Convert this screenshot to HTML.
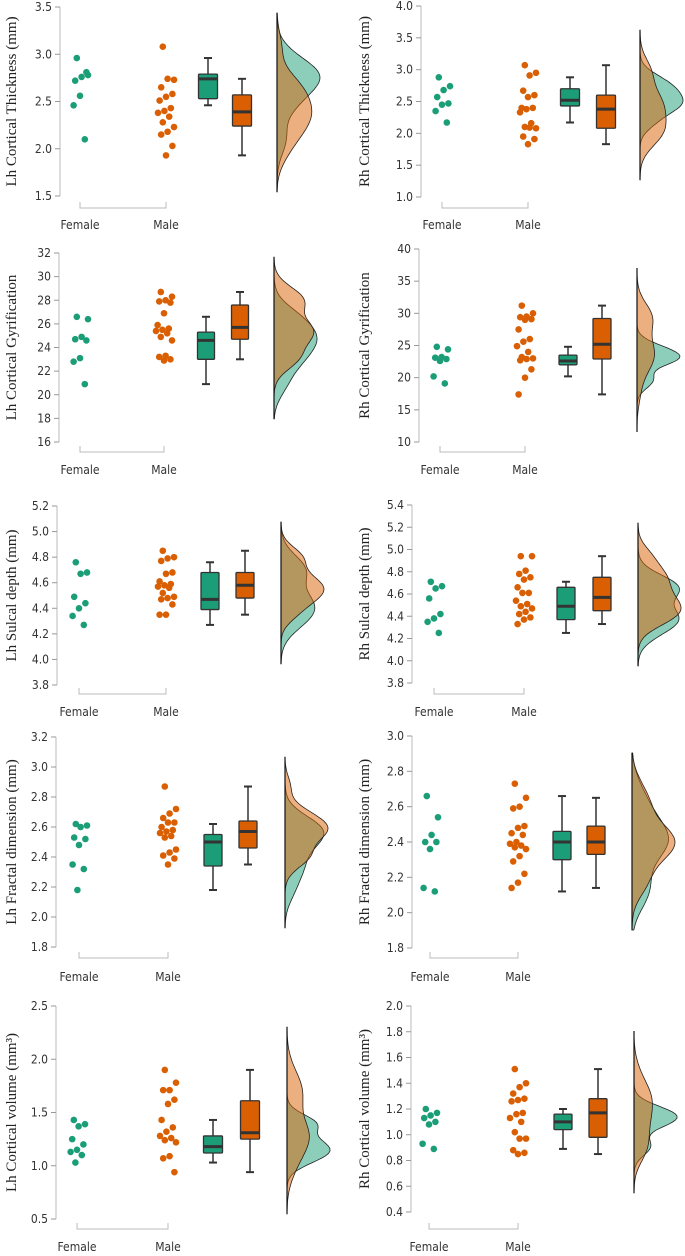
<!DOCTYPE html>
<html><head><meta charset="utf-8">
<style>
html,body{margin:0;padding:0;background:#fff;}
svg{display:block;}
.tick{font-family:"DejaVu Sans Condensed","Liberation Sans Narrow","Liberation Sans",sans-serif;font-size:12px;fill:#333;}
.ytitle{font-family:"Liberation Serif",serif;font-size:15px;fill:#222;}
</style></head>
<body>
<svg id="fig" width="685" height="1256" viewBox="0 0 685 1256" xmlns="http://www.w3.org/2000/svg"></svg>
<script>
// ---- data arrays ----
const groups = ["Female","Male"];
const lhThickF = [2.96,2.78,2.76,2.72,2.81,2.56,2.46,2.10];
const lhThickM = [3.08,2.73,2.74,2.65,2.58,2.55,2.51,2.43,2.40,2.38,2.34,2.28,2.23,2.18,2.15,2.03,1.93];
const lhThickBoxF = [2.46,2.53,2.74,2.79,2.96];
const lhThickBoxM = [1.93,2.24,2.39,2.57,2.74];
const lhThickTicks = [1.5,2.0,2.5,3.0,3.5];

const rhThickF = [2.88,2.74,2.68,2.57,2.47,2.45,2.35,2.17];
const rhThickM = [3.07,2.95,2.91,2.67,2.60,2.57,2.40,2.40,2.38,2.33,2.16,2.10,2.08,2.09,1.95,1.91,1.83];
const rhThickBoxF = [2.17,2.43,2.52,2.70,2.88];
const rhThickBoxM = [1.83,2.08,2.38,2.60,3.07];
const rhThickTicks = [1.0,1.5,2.0,2.5,3.0,3.5,4.0];

const lhGyrF = [26.6,26.4,24.9,24.7,24.6,23.1,22.8,20.9];
const lhGyrM = [28.7,28.3,28.0,27.9,27.8,26.9,25.9,25.6,25.5,25.4,25.2,24.9,24.6,23.3,23.2,23.0,22.9];
const lhGyrBoxF = [20.9,23.0,24.6,25.3,26.6];
const lhGyrBoxM = [23.0,24.7,25.7,27.6,28.7];
const lhGyrTicks = [16,18,20,22,24,26,28,30,32];

const rhGyrF = [24.8,24.4,23.2,23.1,22.9,22.6,20.2,19.1];
const rhGyrM = [31.2,30.0,29.5,29.4,29.1,29.0,27.5,26.0,25.6,24.9,24.0,23.2,23.0,22.9,22.7,21.3,20.0,17.4];
const rhGyrBoxF = [20.2,22.0,22.6,23.5,24.8];
const rhGyrBoxM = [17.4,22.9,25.2,29.2,31.2];
const rhGyrTicks = [10,15,20,25,30,35,40];

const lhSulcF = [4.76,4.68,4.67,4.49,4.44,4.40,4.34,4.27];
const lhSulcM = [4.85,4.80,4.79,4.77,4.68,4.67,4.61,4.59,4.58,4.57,4.56,4.52,4.49,4.48,4.47,4.43,4.35,4.35];
const lhSulcBoxF = [4.27,4.39,4.47,4.68,4.76];
const lhSulcBoxM = [4.35,4.48,4.58,4.68,4.85];
const lhSulcTicks = [3.8,4.0,4.2,4.4,4.6,4.8,5.0,5.2];

const rhSulcF = [4.71,4.67,4.65,4.56,4.42,4.38,4.35,4.25];
const rhSulcM = [4.94,4.94,4.81,4.78,4.75,4.73,4.66,4.61,4.61,4.54,4.51,4.49,4.47,4.44,4.42,4.39,4.37,4.33];
const rhSulcBoxF = [4.25,4.37,4.49,4.66,4.71];
const rhSulcBoxM = [4.33,4.45,4.57,4.75,4.94];
const rhSulcTicks = [3.8,4.0,4.2,4.4,4.6,4.8,5.0,5.2,5.4];

const lhFracF = [2.62,2.61,2.60,2.53,2.52,2.48,2.35,2.32,2.18];
const lhFracM = [2.87,2.72,2.69,2.66,2.63,2.63,2.60,2.58,2.57,2.56,2.54,2.53,2.45,2.43,2.41,2.39,2.35];
const lhFracBoxF = [2.18,2.34,2.50,2.55,2.62];
const lhFracBoxM = [2.35,2.46,2.57,2.64,2.87];
const lhFracTicks = [1.8,2.0,2.2,2.4,2.6,2.8,3.0,3.2];

const rhFracF = [2.66,2.54,2.44,2.40,2.40,2.36,2.14,2.12];
const rhFracM = [2.73,2.65,2.60,2.59,2.49,2.48,2.45,2.44,2.40,2.39,2.38,2.37,2.36,2.32,2.29,2.22,2.17,2.14];
const rhFracBoxF = [2.12,2.30,2.40,2.46,2.66];
const rhFracBoxM = [2.14,2.33,2.40,2.49,2.65];
const rhFracTicks = [1.8,2.0,2.2,2.4,2.6,2.8,3.0];

const lhVolF = [1.43,1.39,1.37,1.25,1.20,1.15,1.13,1.10,1.03];
const lhVolM = [1.90,1.78,1.71,1.71,1.62,1.58,1.43,1.36,1.32,1.28,1.26,1.24,1.22,1.09,1.07,0.94];
const lhVolBoxF = [1.03,1.12,1.18,1.28,1.43];
const lhVolBoxM = [0.94,1.25,1.31,1.61,1.90];
const lhVolTicks = [0.5,1.0,1.5,2.0,2.5];

const rhVolF = [1.20,1.17,1.15,1.13,1.10,1.08,0.93,0.89];
const rhVolM = [1.51,1.40,1.37,1.32,1.28,1.27,1.26,1.17,1.16,1.13,1.10,1.02,0.97,0.97,0.88,0.86,0.85];
const rhVolBoxF = [0.89,1.04,1.10,1.16,1.20];
const rhVolBoxM = [0.85,0.98,1.17,1.28,1.51];
const rhVolTicks = [0.4,0.6,0.8,1.0,1.2,1.4,1.6,1.8,2.0];

// ---- layout (pixels) ----
const panels = [
 {id:"lh-thickness",title:"Lh Cortical Thickness (mm)",f:lhThickF,m:lhThickM,bf:lhThickBoxF,bm:lhThickBoxM,ticks:lhThickTicks,ax:60,yT:7,yB:196,xF:80,xM:166,gb:208,ob:242,bw:19,db:277,dT:13,dB:192,br:208,lab:229,tx:12},
 {id:"rh-thickness",title:"Rh Cortical Thickness (mm)",f:rhThickF,m:rhThickM,bf:rhThickBoxF,bm:rhThickBoxM,ticks:rhThickTicks,ax:421,yT:6,yB:197,xF:442,xM:528,gb:570,ob:606,bw:19,db:640,dT:30,dB:180,br:208,lab:229,tx:365},
 {id:"lh-gyrification",title:"Lh Cortical Gyrification",f:lhGyrF,m:lhGyrM,bf:lhGyrBoxF,bm:lhGyrBoxM,ticks:lhGyrTicks,ax:59,yT:253,yB:442,xF:80,xM:164,gb:206,ob:240,bw:17,db:274,dT:257,dB:419,br:452,lab:474,tx:12},
 {id:"rh-gyrification",title:"Rh Cortical Gyrification",f:rhGyrF,m:rhGyrM,bf:rhGyrBoxF,bm:rhGyrBoxM,ticks:rhGyrTicks,ax:419,yT:249,yB:442,xF:440,xM:525,gb:568,ob:602,bw:18,db:637,dT:268,dB:432,br:452,lab:474,tx:365},
 {id:"lh-sulcal",title:"Lh Sulcal depth (mm)",f:lhSulcF,m:lhSulcM,bf:lhSulcBoxF,bm:lhSulcBoxM,ticks:lhSulcTicks,ax:57,yT:506,yB:685,xF:79,xM:166,gb:210,ob:245,bw:18,db:281,dT:522,dB:664,br:694,lab:716,tx:12},
 {id:"rh-sulcal",title:"Rh Sulcal depth (mm)",f:rhSulcF,m:rhSulcM,bf:rhSulcBoxF,bm:rhSulcBoxM,ticks:rhSulcTicks,ax:412,yT:505,yB:683,xF:434,xM:524,gb:566,ob:602,bw:18,db:638,dT:523,dB:666,br:694,lab:716,tx:365},
 {id:"lh-fractal",title:"Lh Fractal dimension (mm)",f:lhFracF,m:lhFracM,bf:lhFracBoxF,bm:lhFracBoxM,ticks:lhFracTicks,ax:56,yT:737,yB:947,xF:79,xM:168,gb:213,ob:248,bw:18,db:285,dT:757,dB:928,br:958,lab:981,tx:12},
 {id:"rh-fractal",title:"Rh Fractal dimension (mm)",f:rhFracF,m:rhFracM,bf:rhFracBoxF,bm:rhFracBoxM,ticks:rhFracTicks,ax:412,yT:736,yB:948,xF:430,xM:518,gb:562,ob:596,bw:18,db:632,dT:753,dB:930,br:958,lab:981,tx:365},
 {id:"lh-volume",title:"Lh Cortical volume (mm³)",f:lhVolF,m:lhVolM,bf:lhVolBoxF,bm:lhVolBoxM,ticks:lhVolTicks,ax:56,yT:1006,yB:1219,xF:77,xM:168,gb:213,ob:250,bw:19,db:287,dT:1027,dB:1214,br:1229,lab:1251,tx:12},
 {id:"rh-volume",title:"Rh Cortical volume (mm³)",f:rhVolF,m:rhVolM,bf:rhVolBoxF,bm:rhVolBoxM,ticks:rhVolTicks,ax:411,yT:1006,yB:1212,xF:429,xM:518,gb:563,ob:598,bw:18,db:634,dT:1031,dB:1193,br:1229,lab:1251,tx:365}
];

const NS="http://www.w3.org/2000/svg";
const svg=document.getElementById("fig");
const GREEN="#1b9e77", ORANGE="#d95f02";
function mk(tag,attrs,parent){const e=document.createElementNS(NS,tag);for(const k in attrs)e.setAttribute(k,attrs[k]);(parent||svg).appendChild(e);return e;}
function kde(data,v){const n=data.length;const mean=data.reduce((a,b)=>a+b,0)/n;const sd=Math.sqrt(data.reduce((a,b)=>a+(b-mean)*(b-mean),0)/(n-1));const h=0.9*sd*Math.pow(n,-0.2);let s=0;for(const d of data){const z=(v-d)/h;s+=Math.exp(-0.5*z*z);}return s/(n*h);}

panels.forEach(p=>{
  const g=mk("g",{});
  
  
  const lo=p.ticks[0], hi=p.ticks[p.ticks.length-1];
  const y=v=>p.yB-(v-lo)/(hi-lo)*(p.yB-p.yT);
  const yinv=py=>lo+(p.yB-py)/(p.yB-p.yT)*(hi-lo);
  // axis
  const axl=mk("line",{x1:p.ax,x2:p.ax,y1:p.yT,y2:p.yB,stroke:"#bbb","stroke-width":1},g);
  
  
  p.ticks.forEach(t=>{
    mk("line",{x1:p.ax-5,x2:p.ax,y1:y(t),y2:y(t),stroke:"#999","stroke-width":1},g);
    const tl=mk("text",{x:p.ax-8,y:y(t)+4,"text-anchor":"end",class:"tick"},g);
    
    
    tl.textContent=(hi-lo>=10)?String(t):t.toFixed(1);
  });
  // y title
  const cy=(p.yT+p.yB)/2;
  const tt=mk("text",{x:p.tx,y:cy,transform:`rotate(-90 ${p.tx} ${cy})`,"text-anchor":"middle","dominant-baseline":"central",class:"ytitle"},g);
  
  
  tt.textContent=p.title;
  // x bracket
  mk("path",{d:`M${p.xF} ${p.br-6}V${p.br}H${p.xM}V${p.br-6}`,fill:"none",stroke:"#bbb","stroke-width":1},g);
  [[p.xF,groups[0]],[p.xM,groups[1]]].forEach(([x,l])=>{
    const t=mk("text",{x:x,y:p.lab,"text-anchor":"middle",class:"tick"},g);
    
    
    t.textContent=l;
  });
  // points
  [[p.f,p.xF,GREEN],[p.m,p.xM,ORANGE]].forEach(([arr,cx,col])=>{
    arr.forEach((v,i)=>{
      const j=((i*7+3)%11-5)*1.6;
      const c=mk("circle",{cx:cx+j,cy:y(v),r:3.3,fill:col},g);
      
      
    });
  });
  // boxes
  [[p.bf,p.gb,GREEN],[p.bm,p.ob,ORANGE]].forEach(([b,cx,col])=>{
    const w=p.bw, x0=cx-w/2;
    mk("line",{x1:cx,x2:cx,y1:y(b[0]),y2:y(b[4]),stroke:"#333","stroke-width":1.5},g);
    mk("line",{x1:cx-4,x2:cx+4,y1:y(b[0]),y2:y(b[0]),stroke:"#333","stroke-width":2},g);
    mk("line",{x1:cx-4,x2:cx+4,y1:y(b[4]),y2:y(b[4]),stroke:"#333","stroke-width":2},g);
    const r=mk("rect",{x:x0,y:y(b[3]),width:w,height:y(b[1])-y(b[3]),fill:col,stroke:"#333","stroke-width":1.3,rx:1},g);
    
    
    mk("line",{x1:x0,x2:x0+w,y1:y(b[2]),y2:y(b[2]),stroke:"#333","stroke-width":3},g);
  });
  // densities
  const N=80, vs=[];
  for(let k=0;k<=N;k++){const py=p.dT+(p.dB-p.dT)*k/N;vs.push([py,yinv(py)]);}
  const df=vs.map(([py,v])=>kde(p.f,v)), dm=vs.map(([py,v])=>kde(p.m,v));
  const mx=Math.max(...df,...dm), W=43;
  [[df,GREEN],[dm,ORANGE]].forEach(([d,col])=>{
    let path=`M${p.db} ${p.dT}`;
    vs.forEach(([py],k)=>{path+=`L${(p.db+d[k]/mx*W).toFixed(1)} ${py.toFixed(1)}`;});
    path+=`L${p.db} ${p.dB}Z`;
    const e=mk("path",{d:path,fill:col,"fill-opacity":0.5,stroke:"#222","stroke-width":0.8},g);
    
    
  });
  mk("line",{x1:p.db,x2:p.db,y1:p.dT,y2:p.dB,stroke:"#111","stroke-width":1.2},g);
});
</script>
</body></html>
